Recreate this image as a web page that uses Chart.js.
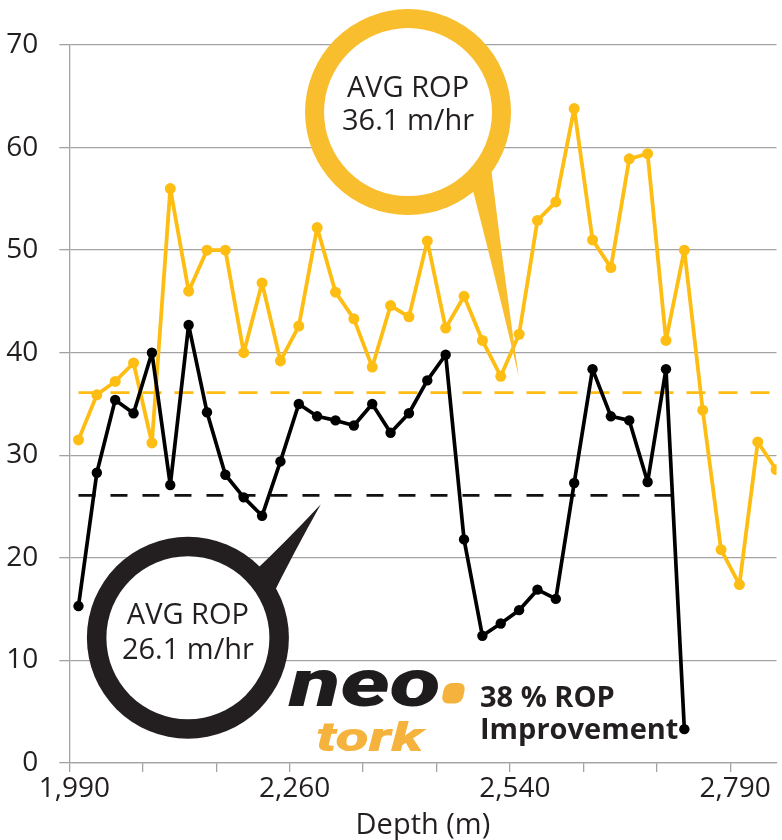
<!DOCTYPE html>
<html>
<head>
<meta charset="utf-8">
<script src="https://cdn.jsdelivr.net/npm/chart.js@4.4.0/dist/chart.umd.min.js"></script>
<style>
  html, body { margin: 0; padding: 0; background: #fff; }
  #wrap { width: 782px; height: 840px; }
</style>
</head>
<body>
<div id="wrap"><canvas id="ropChart" width="782" height="840"></canvas></div>
<script>
// ROP (m/hr) per depth sample, one value per category
const neoTorkRop = [31.5, 35.9, 37.2, 39.0, 31.2, 56.0, 46.0, 50.0, 50.0, 40.0, 46.8, 39.2, 42.6,
    52.2, 45.9, 43.3, 38.6, 44.6, 43.5, 50.9, 42.4, 45.5, 41.2, 37.7, 41.8, 52.9, 54.7, 63.8,
    51.0, 48.3, 58.9, 59.4, 41.2, 50.0, 34.4, 20.8, 17.4, 31.3, 28.6];
const offsetRop = [15.3, 28.3, 35.4, 34.1, 40.0, 27.1, 42.7, 34.2, 28.1, 25.9, 24.1, 29.4, 35.0,
    33.8, 33.4, 32.9, 35.0, 32.2, 34.1, 37.3, 39.8, 21.8, 12.4, 13.6, 14.9, 16.9, 16.0, 27.3,
    38.4, 33.8, 33.4, 27.4, 38.4, 3.3];
const avgNeoTork = 36.1;
const avgOffset = 26.1;
const depthLabels = ['1,990', '2,260', '2,540', '2,790'];

const YELLOW = '#FDBD13';
const BUBBLE_YELLOW = '#F8BE2E';
const DARK = '#231F20';
const GRID = '#a3a3a3';
const FONT = '"Open Sans", "Noto Sans", sans-serif';

function toPoints(values) {
    return values.map((v, i) => ({ x: i, y: v }));
}

// Callout bubbles: anchored in data space, sizes in px
const callouts = [
    { cx: 17.95, cy: 63.46, tipX: 23.98, tipY: 37.65, r: 103, ring: 19, a1: 29, a2: 48,
      color: BUBBLE_YELLOW, lines: ['AVG ROP', '36.1 m/hr'], dy: [-15, 18] },
    { cx: 5.96, cy: 12.21, tipX: 13.2, tipY: 25.23, r: 101, ring: 19.5, a1: -45, a2: -25,
      color: DARK, lines: ['AVG ROP', '26.1 m/hr'], dy: [-14, 21] }
];

function fitText(ctx, text, font, box, color) {
    ctx.save();
    ctx.font = font;
    const m = ctx.measureText(text);
    const w = m.actualBoundingBoxLeft + m.actualBoundingBoxRight;
    const h = m.actualBoundingBoxAscent + m.actualBoundingBoxDescent;
    ctx.translate(box.x1, box.y1);
    ctx.scale((box.x2 - box.x1) / w, (box.y2 - box.y1) / h);
    ctx.fillStyle = color;
    ctx.textBaseline = 'alphabetic';
    ctx.fillText(text, m.actualBoundingBoxLeft, m.actualBoundingBoxAscent);
    ctx.restore();
}

const overlayPlugin = {
    id: 'overlay',
    afterDatasetsDraw(chart) {
        const ctx = chart.ctx;
        const xs = chart.scales.x;
        const ys = chart.scales.y;

        callouts.forEach(c => {
            const cx = xs.getPixelForValue(c.cx);
            const cy = ys.getPixelForValue(c.cy);
            const tx = xs.getPixelForValue(c.tipX);
            const ty = ys.getPixelForValue(c.tipY);
            const rb = c.r - c.ring / 2;
            const a1 = c.a1 * Math.PI / 180;
            const a2 = c.a2 * Math.PI / 180;
            ctx.save();
            ctx.fillStyle = c.color;
            ctx.beginPath();
            ctx.arc(cx, cy, c.r, 0, Math.PI * 2);
            ctx.fill();
            // tail
            const b1x = cx + rb * Math.cos(a1), b1y = cy + rb * Math.sin(a1);
            const b2x = cx + rb * Math.cos(a2), b2y = cy + rb * Math.sin(a2);
            const mx = (b1x + b2x) / 2, my = (b1y + b2y) / 2;
            ctx.beginPath();
            ctx.moveTo(b1x, b1y);
            ctx.quadraticCurveTo((b1x + tx) / 2 * 0.9 + mx * 0.1, (b1y + ty) / 2 * 0.9 + my * 0.1, tx, ty);
            ctx.quadraticCurveTo((b2x + tx) / 2 * 0.9 + mx * 0.1, (b2y + ty) / 2 * 0.9 + my * 0.1, b2x, b2y);
            ctx.closePath();
            ctx.fill();
            // white inside
            ctx.fillStyle = '#fff';
            ctx.beginPath();
            ctx.arc(cx, cy, c.r - c.ring, 0, Math.PI * 2);
            ctx.fill();
            ctx.fillStyle = DARK;
            ctx.font = '29px ' + FONT;
            ctx.textAlign = 'center';
            ctx.textBaseline = 'alphabetic';
            c.lines.forEach((t, i) => ctx.fillText(t, cx, cy + c.dy[i]));
            ctx.restore();
        });

        // neo tork logo
        fitText(ctx, 'neo', 'italic 900 70px Roboto, "DejaVu Sans", sans-serif',
            { x1: 288, y1: 670, x2: 439, y2: 707 }, '#1e1c1d');
        fitText(ctx, 'tork', 'italic 900 60px Roboto, "DejaVu Sans", sans-serif',
            { x1: 317, y1: 720, x2: 427, y2: 752 }, '#F5B33D');
        ctx.save();
        ctx.fillStyle = '#F5B33D';
        ctx.transform(1, 0, -0.2, 1, 0, 0);
        ctx.beginPath();
        ctx.roundRect(443 + 0.2 * 693, 683, 21, 20.5, 7);
        ctx.fill();
        ctx.restore();

        ctx.save();
        ctx.fillStyle = DARK;
        ctx.font = 'bold 29px ' + FONT;
        ctx.textAlign = 'left';
        ctx.fillText('38 % ROP', 480, 706.5);
        ctx.fillText('Improvement', 480, 738.5);
        ctx.restore();
    }
};

new Chart(document.getElementById('ropChart'), {
    type: 'line',
    data: {
        datasets: [
            {
                label: 'Offset',
                data: toPoints(offsetRop),
                borderColor: '#000',
                backgroundColor: '#000',
                borderWidth: 3.7,
                borderJoinStyle: 'round',
                pointRadius: 5.2,
                pointBorderWidth: 0,
                tension: 0
            },
            {
                label: 'NeoTork',
                data: toPoints(neoTorkRop),
                borderColor: YELLOW,
                backgroundColor: YELLOW,
                borderWidth: 3.8,
                borderJoinStyle: 'round',
                pointRadius: 5.5,
                pointBorderWidth: 0,
                tension: 0
            },
            {
                label: 'Avg NeoTork',
                data: [{ x: 0, y: avgNeoTork }, { x: neoTorkRop.length - 1, y: avgNeoTork }],
                borderColor: YELLOW,
                borderWidth: 2.8,
                borderDash: [19, 13],
                pointRadius: 0
            },
            {
                label: 'Avg Offset',
                data: [{ x: 0, y: avgOffset }, { x: offsetRop.length - 1, y: avgOffset }],
                borderColor: '#111',
                borderWidth: 2.8,
                borderDash: [17, 15],
                pointRadius: 0
            }
        ]
    },
    options: {
        responsive: false,
        animation: false,
        layout: { padding: { top: 45, right: 0, left: 0, bottom: 0 } },
        plugins: {
            legend: { display: false },
            tooltip: { enabled: false }
        },
        scales: {
            x: {
                type: 'linear',
                min: -0.5,
                max: 38.02,
                afterBuildTicks: scale => {
                    // a tick mark every 4 samples
                    const ticks = [];
                    for (let v = -0.5; v <= scale.max; v += 4) ticks.push({ value: v });
                    scale.ticks = ticks;
                },
                afterFit: scale => { scale.height = 77; },
                grid: { drawOnChartArea: false, drawTicks: true, tickLength: 9, color: GRID, lineWidth: 1.3 },
                border: { display: true, color: GRID, width: 1.3 },
                ticks: {
                    autoSkip: false,
                    maxRotation: 0,
                    padding: 0,
                    labelOffset: 5,
                    color: DARK,
                    font: { family: FONT, size: 28 },
                    callback: (value, index) => index % 3 === 0 ? (depthLabels[index / 3] || '') : ''
                },
                title: {
                    display: true,
                    text: 'Depth (m)',
                    color: DARK,
                    font: { family: FONT, size: 29, lineHeight: 1 },
                    padding: { top: 0, bottom: 0 }
                }
            },
            y: {
                min: 0,
                max: 70,
                afterFit: scale => { scale.width = 69.3; },
                grid: { color: GRID, lineWidth: 1.3, tickLength: 10 },
                border: { display: true, color: GRID, width: 1.3 },
                ticks: {
                    stepSize: 10,
                    padding: 21,
                    color: DARK,
                    font: { family: FONT, size: 28 }
                }
            }
        }
    },
    plugins: [overlayPlugin]
});
</script>
</body>
</html>
